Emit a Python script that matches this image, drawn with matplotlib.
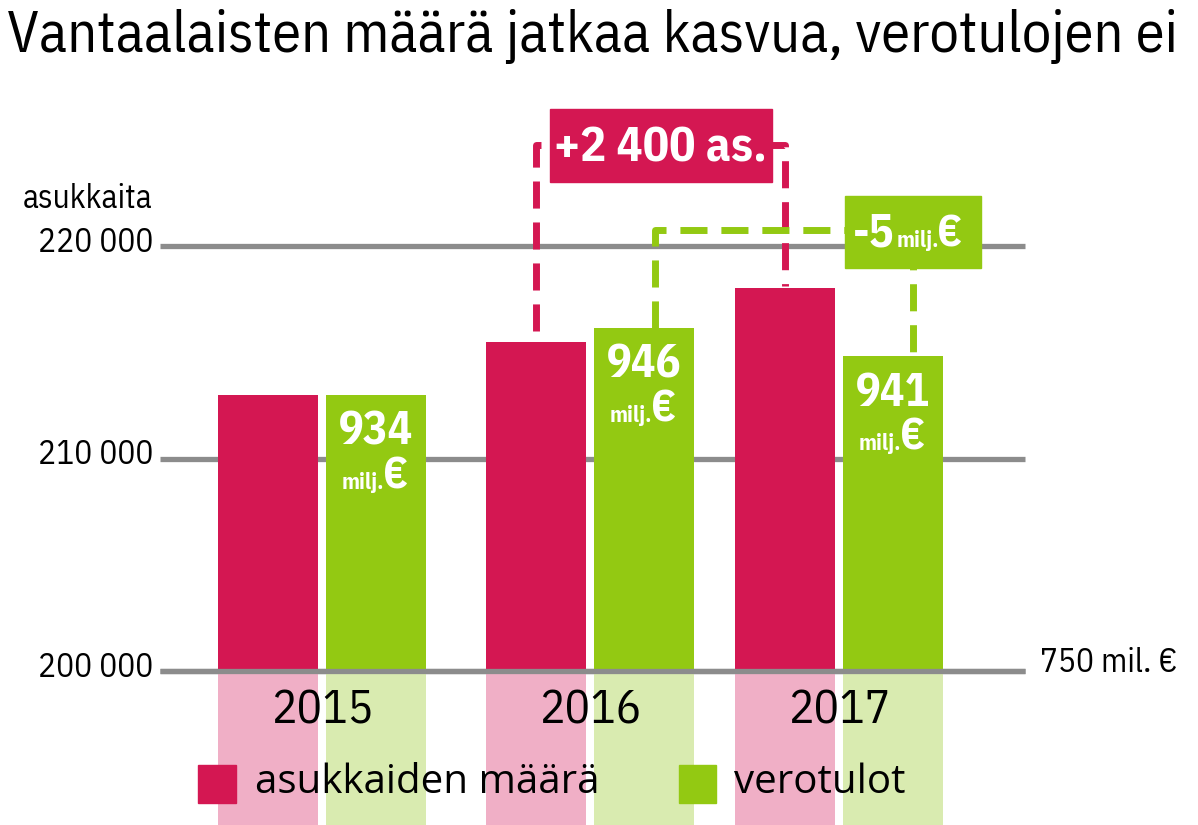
import matplotlib.pyplot as plt
from matplotlib.patches import Rectangle

# data
vuodet = ['2015', '2016', '2017']
asukkaat = [213000, 215500, 218000]
verotulot = [934, 946, 941]          # milj. euroa
y_arvot = [200000, 210000, 220000]
y_nimet = ['200 000', '210 000', '220 000']
asukas_muutos = '+2 400 as.'
vero_muutos = '-5'
otsikko = 'Vantaalaisten määrä jatkaa kasvua, verotulojen ei'
selitteet = ['asukkaiden määrä', 'verotulot']

PINK = '#d41752'
GREEN = '#93c912'
PINK_L = '#f0afc6'
GREEN_L = '#d9ebb0'
GRID = '#8c8c8c'

NARROW = ['IBM Plex Sans Condensed', 'DejaVu Sans']
WIDE = ['Open Sans', 'DejaVu Sans']
plt.rcParams['font.family'] = NARROW

W, H = 1198, 825
# x axis in pixels, y axis in residents
PX_PER_1000 = 21.25
def py(p):
    return 200000 + (671 - p) * 1000 / PX_PER_1000

fig = plt.figure(figsize=(W / 100, H / 100), dpi=100)
ax = fig.add_axes([0, 0, 1, 1])
ax.set_xlim(0, W)
ax.set_ylim(py(H), py(0))
ax.axis('off')

# tax revenue on its own scale (884.5 milj. at the base line)
v0 = 884.5
k = 0.003808
ax2 = ax.twinx()
ax2.set_ylim(v0 + (py(H) - 200000) * k, v0 + (py(0) - 200000) * k)
ax2.axis('off')

pos = [322, 590, 839]
bw = 100
off = 54
xp = [p - off for p in pos]
xg = [p + off for p in pos]
lo = py(H)

# faint columns below the base line
ax.bar(xp, [200000 - lo] * 3, bottom=lo, width=bw, color=PINK_L, zorder=1)
ax.bar(xg, [200000 - lo] * 3, bottom=lo, width=bw, color=GREEN_L, zorder=1)

# grid
for yv, name in zip(y_arvot, y_nimet):
    ax.plot([160, 1025], [yv, yv], color=GRID, lw=3.8, zorder=0, solid_capstyle='butt')
    ax.annotate(name, (153, yv), xytext=(0, -4), textcoords='offset points',
                ha='right', va='baseline', fontsize=24)
ax.text(153, py(208), 'asukkaita', ha='right', va='baseline', fontsize=24)
ax.text(1040, py(672), '750 mil. €', ha='left', va='baseline', fontsize=24)

# bars
ax.bar(xp, [a - 200000 for a in asukkaat], bottom=200000, width=bw, color=PINK, zorder=2)
ax2.bar(xg, [v - v0 for v in verotulot], bottom=v0, width=bw, color=GREEN, zorder=2)
ax2.plot([160, 1025], [v0, v0], color=GRID, lw=3.8, zorder=6, solid_capstyle='butt')

for x, v in zip(xg, verotulot):
    ax2.annotate(str(v), (x, v), xytext=(0, -11.5), textcoords='offset points',
                 ha='center', va='top', fontsize=33, fontweight='bold', color='white', zorder=7)
    ax2.annotate('milj.', (x, v), xytext=(6, -67.7), textcoords='offset points',
                 ha='right', va='baseline', fontsize=16, fontweight='bold', color='white', zorder=7)
    ax2.annotate('€', (x, v), xytext=(5, -67.7), textcoords='offset points',
                 ha='left', va='baseline', fontsize=32, fontweight='bold', color='white', zorder=7)

for yr, p in zip(vuodet, pos):
    ax.text(p, py(723), yr, ha='center', va='baseline', fontsize=34)

# +2 400 as. bracket
gap = 11 * 1000 / PX_PER_1000
yb = py(145)
ax.plot([xp[1], xp[1], xp[2], xp[2]], [asukkaat[1] + gap, yb, yb, asukkaat[2] + 3 * 1000 / PX_PER_1000],
        color=PINK, lw=5, dashes=(3.9, 2.0), zorder=3)
bx = (xp[1] + xp[2]) / 2
ax.add_patch(Rectangle((bx - 111, py(182)), 222, py(109) - py(182), color=PINK, zorder=4))
ax.text(bx, py(162), asukas_muutos, ha='center', va='baseline', fontsize=35,
        fontweight='bold', color='white', zorder=5)

# -5 milj. € bracket
gx1 = xg[1] + 11
gx2 = xg[2] + 20
gb = v0 + (py(230) - 200000) * k
ax2.plot([gx1, gx1, gx2, gx2], [verotulot[1], gb, gb, verotulot[2]],
         color=GREEN, lw=5, dashes=(3.9, 2.0), zorder=3)
ax2.add_patch(Rectangle((gx2 - 68, py(268)), 136, py(196) - py(268), color=GREEN,
                        transform=ax.transData, zorder=4))
ax2.text(gx2 - 19, py(247), vero_muutos, ha='right', va='baseline', fontsize=33,
         fontweight='bold', color='white', transform=ax.transData, zorder=5)
ax2.text(gx2 - 16, py(247), 'milj.', ha='left', va='baseline', fontsize=16,
         fontweight='bold', color='white', transform=ax.transData, zorder=5)
ax2.text(gx2 + 24, py(247), '€', ha='left', va='baseline', fontsize=32,
         fontweight='bold', color='white', transform=ax.transData, zorder=5)

# legend
ax2.add_patch(Rectangle((198, py(803)), 38, py(765) - py(803), color=PINK,
                        transform=ax.transData, zorder=5))
ax2.text(255, py(793), selitteet[0], ha='left', va='baseline', fontsize=29,
         family=WIDE, transform=ax.transData, zorder=5)
ax2.add_patch(Rectangle((679, py(803)), 37, py(765) - py(803), color=GREEN,
                        transform=ax.transData, zorder=5))
ax2.text(734, py(793), selitteet[1], ha='left', va='baseline', fontsize=29,
         family=WIDE, transform=ax.transData, zorder=5)

fig.text(7 / W, 1 - 52 / H, otsikko, ha='left', va='baseline', fontsize=42)

fig.savefig('out.png', dpi=100)
